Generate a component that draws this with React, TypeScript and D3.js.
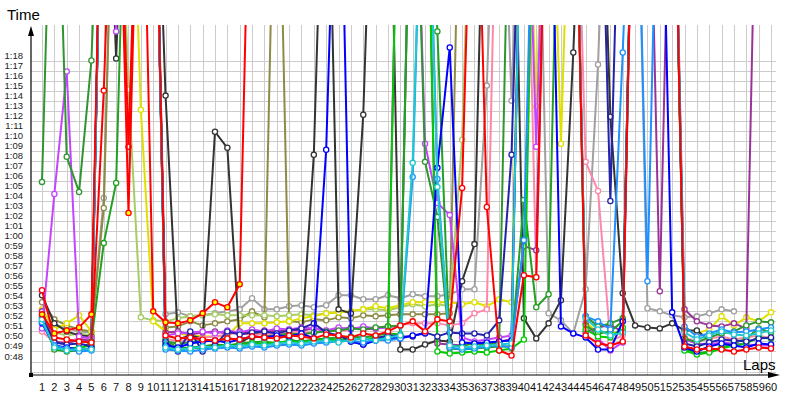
import React, { useEffect, useRef } from 'react'
import * as d3 from 'd3'

// lap far slower than the top of the scale (pit stop / safety car)
const P = 110

const laps = d3.range(1, 61)
const timeTicks = d3.range(48, 79)

// lap times in seconds, lap 1 first
const redYellow = [
  52.7, 50.8, 51.1, 51.4, 52.7, P, P, 62.8, P, 53.0,
  51.9, 51.8, 52.1, 52.8, 53.9, 53.4, 55.7, P,
]
const red = [
  55.1, 50.4, 50.2, 50.0, 49.9, 75.0, P, 69.4, P, P,
  50.6, 50.3, 50.4, 50.2, 50.1, 50.3, 50.2, 50.5, 50.4, 50.3,
  50.6, 50.5, 50.3, 50.7, 50.6, 50.4, 50.8, 50.6, 51.0, 51.6,
  52.0, 51.0, 52.2, 52.0, 65.3, P, 63.4, 49.1, 48.6, 56.6,
  56.4, P, P, P, 50.6, 49.8, 49.6, 50.0, P, P,
  P, P, 49.5, 49.2, 49.3, 49.2, 49.0, 49.2, 49.4, 49.3,
]
const green = [
  52.3, 49.2, 49.0, 49.1, 50.0, 59.8, 65.8, P, P, P,
  50.2, 49.3, 49.4, 49.5, 49.7, 49.6, 49.8, 49.9, 50.0, 49.8,
  50.1, 50.0, 50.2, 50.3, 50.4, 50.5, 50.4, 50.6, 50.8, 50.7,
  P, P, 80.9, 49.3, 49.2, 49.3, 49.4, 49.5, 49.5, 64.1,
  53.4, 54.7, P, P, 51.6, 50.8, 51.0, 52.0, P, P,
  P, P, 49.3, 48.8, 49.0, 49.4, 49.8, 50.3, 51.3, 50.9,
]
const darkGreen = [
  65.9, P, 68.4, 64.9, 78.0, P, P, P, P, P,
  50.0, 49.8, 49.9, 50.1, 50.0, 50.3, 50.2, 50.4, 50.5, 50.6,
  50.8, 50.7, 50.9, 51.0, 51.1, 51.3, 51.2, 51.4, 51.5, 51.6,
  P, 67.9, 62.4, 49.5, 49.6, 49.8, 49.7, 49.9, P, P,
  P, P, P, P, 52.5, 51.5, 51.8, 52.3, P, P,
  P, P, 50.3, 49.9, 50.4, 50.8, 51.0, 51.6, 52.0, 51.9,
]
const lime = [
  52.0, 49.5, 49.3, 49.4, 49.6, P, P, P, P, P,
  49.7, 49.2, 49.3, 49.4, 49.5, 49.6, 49.5, 49.8, 49.7, 49.9,
  50.0, 49.9, 50.1, 50.2, 50.1, 50.3, 50.2, 50.4, 50.5, P,
  P, P, 49.0, 48.8, 48.9, 49.0, 48.9, 49.1, 49.3, 50.2,
  P, P, P, P, 51.2, 50.5, 50.4, 51.4, P, P,
  P, P, 49.1, 48.7, 48.9, 49.3, 49.6, 49.8, 50.4, 50.3,
]
const magenta = [
  51.3, 64.7, 76.9, 50.5, 50.3, P, 80.9, P, P, P,
  50.6, 50.8, 50.9, 51.0, 50.8, 51.1, 50.9, 51.2, 51.0, 51.3,
  51.2, 51.4, 51.3, 51.1, 51.4, 51.2, 51.5, 51.3, 51.4, 51.6,
  P, 69.7, 63.8, 62.6, 50.4, 50.0, 50.2, 50.4, 50.6, P,
  69.4, P, P, P, 51.8, 50.3, 49.1, 49.9, P, P,
  P, P, 50.2, 49.8, 49.7, 49.9, 49.8, 49.7, 49.6, 49.6,
]
const purple = [
  53.0, 50.0, 49.8, 50.2, 50.1, P, P, P, P, P,
  50.9, 51.0, 50.7, 50.9, 51.0, 50.8, 51.0, 50.9, 51.1, 51.0,
  51.2, 51.1, 51.3, 51.0, 51.2, 51.4, 51.2, 51.3, 51.5, P,
  P, P, 49.8, 49.7, 49.6, 49.9, 49.8, 50.0, 50.2, 59.5,
  59.1, P, P, P, 50.9, 51.4, 51.6, 51.0, P, P,
  55.0, P, 53.2, 52.0, 51.6, 51.5, 51.8, 51.3, P,
]
const blue = [
  51.8, 49.6, 49.4, 49.2, 49.3, P, P, P, P, P,
  49.6, 49.4, 49.8, 50.0, 50.1, 49.9, 50.2, 50.5, 50.4, 50.6,
  50.5, 50.8, 50.3, 69.1, P, 50.0, 49.7, 50.1, 50.4, 50.3,
  50.6, 50.8, 67.3, 79.3, 49.9, 49.8, 49.9, 50.0, 50.1, P,
  P, P, 51.5, 50.8, 50.4, 49.2, 49.2, 52.0, P, P,
  P, 52.9, 49.4, 49.0, 49.5, 49.8, 49.6, 49.4, 49.8, 49.7,
]
const navy = [
  52.4, 49.9, 49.7, 49.8, 49.5, P, P, P, P, P,
  50.0, 49.0, 51.0, 49.0, 49.6, 51.0, 50.7, 50.9, 51.0, 50.8,
  51.1, 51.3, 51.8, 50.9, 50.6, 50.0, 49.7, 50.3, 50.6, 50.5,
  50.5, 50.9, 50.5, 50.9, 50.8, 50.8, 50.6, 52.1, 68.6, P,
  P, P, P, P, P, P, 64.0, P, P, P,
  P, P, 49.8, 49.5, 49.9, 50.2, 50.1, 50.0, 50.3, 50.4,
]
const black = [
  54.6, 51.8, 51.0, 50.6, 50.5, P, 78.2, P, P, P,
  74.5, 50.2, 50.6, 50.3, 70.9, 69.3, 49.8, 50.6, 51.0, 51.0,
  50.2, 49.9, 68.6, P, 53.2, 52.8, 72.6, P, P, 49.2,
  49.2, 49.7, 50.1, 50.0, 56.0, 59.7, P, P, P, 52.3,
  50.3, 51.8, 54.1, 78.8, P, P, 72.4, 54.8, 51.6, 51.4,
  51.3, 51.8, 51.1, 51.1, 50.1,
]
const gray = [
  53.0, 51.6, 51.3, 51.0, 50.9, 64.3, P, P, P, P,
  52.7, 52.9, 52.5, 52.6, 52.8, 53.0, 53.2, 54.3, 53.2, 53.2,
  53.5, 53.6, 53.4, 53.6, 54.6, 54.6, 54.2, 54.2, 54.6, 54.3,
  54.7, 54.5, 54.5, 54.7, 55.2, 55.2, 75.5, P, 74.0, P,
  P, 52.8, 52.1, 50.8, 55.2, 77.6, P, P, P, 53.3,
  53.0, 52.6, 52.4, 52.5, 52.8, 53.2, 53.0,
]
const olive = [
  53.9, 52.2, 51.6, 51.2, 51.0, 63.3, P, P, P, P,
  51.4, 51.5, 52.0, 51.6, 51.8, 52.0, 52.2, 53.0, 52.4, P,
  52.0, 51.9, 52.2, 52.1, 52.4, 52.3, 52.6, 52.5, 52.6, 52.7,
  52.7, 52.7, 52.7, 52.8, P,
]
const yellow = [
  53.2, 51.2, 51.8, 52.6, 51.0, P, P, P, 73.1, 52.0,
  51.0, 50.8, 50.6, 50.5, 50.5, 50.6, 51.8, 51.8, 51.8, 51.9,
  52.0, 52.3, 52.5, 52.8, 52.9, 53.0, 53.2, 53.5, 53.3, 53.6,
  53.9, 53.9, 53.9, 53.9, 53.7, 53.9, 53.5, 54.2, 53.9, P,
  73.4, P, 69.7, P, 52.0, 50.8, 51.0, 50.7, P, P,
  P, P, 51.4, 50.8, 51.2, 52.5, 51.6, 52.4, 52.0, 52.9,
]
const lightGreen = [
  52.5, 50.9, 50.6, 50.8, 50.6, P, P, 75.1, 52.4, 52.1,
  52.0, 52.3, 52.5, 52.6, 52.7, 52.6, 52.6, 52.6, 52.6, 52.5,
  52.6, 52.7, 52.6, 52.8, 52.9, 53.0, 53.2, 53.2, 53.1, 53.4,
  53.7, 53.5, 53.7, 53.5, 70.1, P,
]
const cyan = [
  52.2, 49.4, 49.1, 49.3, 49.2, P, P, P, P, P,
  49.4, 49.2, 49.3, 49.5, 49.4, 49.6, 49.5, 49.7, 49.6, 49.8,
  49.9, 49.8, 50.0, 50.1, 49.9, 50.2, 50.3, 50.1, 50.4, 50.6,
  67.8, P, 65.4, 49.6, 49.4, 49.5, 49.6, 49.7, 49.8, P,
  P, P, P, P, 52.3, 51.2, 50.6, 50.9, P, P,
  P, P, 50.9, 50.2, 50.6, 51.0, 50.7, 50.6, 50.8, 51.1,
]
const lightBlue = [
  51.9, 49.6, 49.3, 49.0, 49.1, P, P, P, P, P,
  49.2, 49.1, 49.0, 49.2, 49.3, 49.4, 49.3, 49.5, 49.4, 49.6,
  49.7, 49.6, 49.8, 49.9, 50.0, 50.1, 49.9, 50.2, 50.1, 50.3,
  66.4, P, 66.2, 49.4, 49.2, 49.3, 49.5, 49.6, 49.4, 60.1,
  P, P, P, P, 52.5, 52.0, 51.2, 78.8, P, 56.0,
  P, P, 51.5, 50.5, 50.8, 51.2, 50.9, 51.0, 51.2, 51.4,
]
const pink = [
  51.0, 49.9, 50.0, 50.3, 50.4, P, P, P, P, P,
  50.3, 50.0, 50.2, 50.4, 50.5, 50.7, 50.9, 50.6, 50.8, 50.7,
  50.9, 51.0, 50.8, 51.1, 51.0, 51.2, 51.4, 51.3, 51.5, 51.6,
  51.8, 51.8, 51.8, 51.6, 51.8, 52.8, 53.2, P, P, P,
  56.4, P, P, P, 67.9, 65.0, 50.0, 50.6, P, P,
  P, P, 50.4, 50.0, 50.3, 50.5, 50.2, 50.4, 50.6, 50.3,
]

// drawing order, last one on top
const drivers = [
  { color: '#a0a0a0', fill: '#fff', times: gray },
  { color: '#8c8c46', fill: '#fff', times: olive },
  { color: '#a8cc66', fill: '#fff', times: lightGreen },
  { color: '#e0e000', fill: '#fff', times: yellow },
  { color: '#333333', fill: '#fff', times: black },
  { color: '#ff88aa', fill: '#fff', times: pink },
  { color: '#993399', fill: '#fff', times: purple },
  { color: '#c444ff', fill: '#fff', times: magenta },
  { color: '#2f962f', fill: '#fff', times: darkGreen },
  { color: '#22a022', fill: '#fff', times: green },
  { color: '#00cc00', fill: '#fff', times: lime },
  { color: '#2222aa', fill: '#fff', times: navy },
  { color: '#0000ff', fill: '#fff', times: blue },
  { color: '#1e90ff', fill: '#fff', times: lightBlue },
  { color: '#20c8d0', fill: '#fff', times: cyan },
  { color: '#ff0000', fill: '#fff', times: red },
  { color: '#ff0000', fill: '#ffff00', times: redYellow },
]

const fmt = (v: number) => `${Math.floor(v / 60)}:${String(v % 60).padStart(2, '0')}`

const LapChart = () => {
  const ref = useRef<SVGSVGElement>(null)

  useEffect(() => {
    if (!ref.current) return
    const svg = d3.select(ref.current)
    svg.selectAll('*').remove()

    const left = 31
    const right = 776
    const top = 25
    const bottom = 375

    const x = d3.scaleLinear().domain([1, 60]).range([42, 771])
    const y = d3.scaleLinear().domain([48, 78]).range([361.5, 60.5])

    svg.append('rect').attr('width', 800).attr('height', 400).attr('fill', '#fff')

    // grid
    const grid = svg.append('g').attr('stroke', '#cccccc').attr('stroke-width', 1)
    grid.selectAll('line.v')
      .data(laps)
      .join('line')
      .attr('x1', (d) => Math.round(x(d)) + 0.5)
      .attr('x2', (d) => Math.round(x(d)) + 0.5)
      .attr('y1', top)
      .attr('y2', bottom)
    grid.selectAll('line.h')
      .data(d3.range(47, 79))
      .join('line')
      .attr('x1', left)
      .attr('x2', right)
      .attr('y1', (d) => Math.round(y(d)) + 0.5)
      .attr('y2', (d) => Math.round(y(d)) + 0.5)

    svg.append('clipPath').attr('id', 'plot-clip')
      .append('rect')
      .attr('x', left)
      .attr('y', top)
      .attr('width', right - left + 6)
      .attr('height', bottom - top)

    const plot = svg.append('g').attr('clip-path', 'url(#plot-clip)')

    const line = d3.line<number>()
      .defined((d) => d != null)
      .x((_, i) => x(i + 1))
      .y((d) => y(d))

    drivers.forEach((drv) => {
      const g = plot.append('g')
      g.append('path')
        .attr('d', line(drv.times))
        .attr('fill', 'none')
        .attr('stroke', drv.color)
        .attr('stroke-width', 2)
        .attr('stroke-linejoin', 'round')

      g.selectAll('circle')
        .data(drv.times.map((t, i) => ({ t, lap: i + 1 })).filter((d) => d.t < 82))
        .join('circle')
        .attr('cx', (d) => x(d.lap))
        .attr('cy', (d) => y(d.t))
        .attr('r', 2.6)
        .attr('fill', drv.fill)
        .attr('stroke', drv.color)
        .attr('stroke-width', 1.3)
    })

    // axes
    svg.append('line')
      .attr('x1', left).attr('x2', left)
      .attr('y1', bottom).attr('y2', top + 6)
      .attr('stroke', '#000').attr('stroke-width', 1.2)
    svg.append('path')
      .attr('d', `M${left},${top + 1} L${left - 3},${top + 11} L${left + 3},${top + 11} Z`)
      .attr('fill', '#000')
    svg.append('line')
      .attr('x1', left).attr('x2', 772)
      .attr('y1', bottom).attr('y2', bottom)
      .attr('stroke', '#000').attr('stroke-width', 1.2)
    svg.append('path')
      .attr('d', `M780,${bottom} L768,${bottom - 3} L768,${bottom + 3} Z`)
      .attr('fill', '#000')
    svg.append('rect')
      .attr('x', left - 2).attr('y', bottom - 2)
      .attr('width', 4).attr('height', 4)
      .attr('fill', '#000')

    svg.append('g')
      .selectAll('text')
      .data(timeTicks)
      .join('text')
      .attr('x', 23)
      .attr('y', (d) => y(d) - 2)
      .attr('text-anchor', 'end')
      .attr('fill', '#222')
      .style('font-family', 'Liberation Sans, Arial, sans-serif')
      .style('font-size', '9.5px')
      .text(fmt)

    svg.append('g')
      .selectAll('text')
      .data(laps)
      .join('text')
      .attr('x', (d) => x(d))
      .attr('y', 391)
      .attr('text-anchor', 'middle')
      .attr('fill', '#111')
      .style('font-family', 'Liberation Sans, Arial, sans-serif')
      .style('font-size', '11px')
      .text((d) => d)

    svg.append('text')
      .attr('x', 7).attr('y', 20)
      .style('font-family', 'Liberation Sans, Arial, sans-serif')
      .style('font-size', '15px')
      .text('Time')
    svg.append('text')
      .attr('x', 743).attr('y', 370)
      .style('font-family', 'Liberation Sans, Arial, sans-serif')
      .style('font-size', '15px')
      .text('Laps')
  }, [])

  return (
    <div style={{ position: 'absolute', left: 0, top: 0 }}>
      <svg ref={ref} width={800} height={400} style={{ display: 'block' }} />
    </div>
  )
}

export default function App() {
  return <LapChart />
}
